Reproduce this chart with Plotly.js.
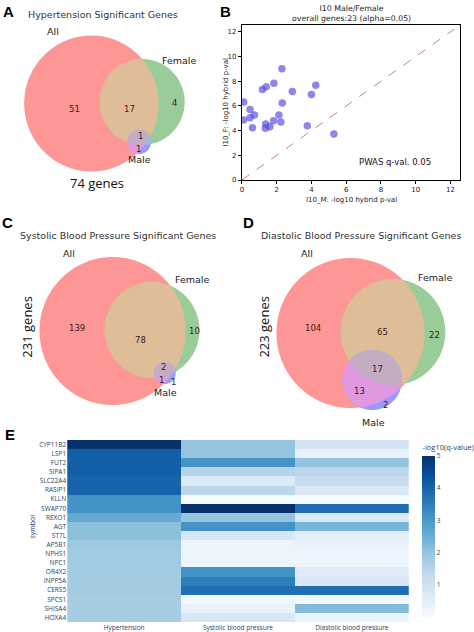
<!DOCTYPE html>
<html><head><meta charset="utf-8">
<script src="https://cdn.plot.ly/plotly-3.0.1.min.js"></script>
<style>html,body{margin:0;padding:0;background:#fff;}#chart{width:474px;height:632px;}</style>
</head><body><div id="chart"></div>
<script>
// ---------------- DATA ----------------
const setNames = ['All', 'Female', 'Male'];
const vennRegionNames = ['All only', 'All & Female', 'Female only', 'All & Female & Male', 'All & Male', 'Male only'];
const hypCounts = [51, 17, 4, 1, 1, null];
const sbpCounts = [139, 78, 10, 2, 1, 1];
const dbpCounts = [104, 65, 22, 17, 13, 2];
const vennTotals = [74, 231, 223];
const vennTitles = ['Hypertension Significant Genes', 'Systolic Blood Pressure Significant Genes', 'Diastolic Blood Pressure Significant Genes'];

const maleLogP   = [0.10, 0.10, 0.47, 0.47, 0.72, 0.61, 1.18, 1.40, 1.37, 1.35, 1.61, 1.84, 1.82, 2.13, 2.24, 2.32, 2.30, 2.90, 3.76, 4.00, 4.25, 5.29];
const femaleLogP = [6.31, 4.85, 5.71, 5.04, 5.26, 4.23, 7.33, 7.55, 4.53, 4.20, 4.31, 7.84, 4.80, 5.26, 4.69, 6.23, 9.00, 7.17, 4.39, 6.93, 7.68, 3.72];
const scatterTitle = 'I10 Male/Female<br>overall genes:23 (alpha=0.05)';
const scatterNote = 'PWAS q-val. 0.05';

const genes = ['CYP11B2','LSP1','FUT2','SIPA1','SLC22A4','RASIP1','KLLN','SWAP70','REXO1','AGT','ST7L','AP5B1','NPHS1','NPC1','OR4X2','INPP5A','CERS5','SPCS1','SHISA4','HOXA4'];
const traits = ['Hypertension', 'Systolic blood pressure', 'Diastolic blood pressure'];
const hypVals = [5.0, 4.1, 4.1, 4.1, 4.0, 4.0, 3.1, 3.1, 2.6, 2.1, 2.1, 1.9, 1.85, 1.85, 1.8, 1.8, 1.8, 1.75, 1.75, 1.75];
const sbpVals = [2.0, 2.0, 3.1, 1.5, 0.65, 1.4, 0.05, 5.0, 2.0, 3.1, 0.8, 0.25, 0.25, 0.25, 3.1, 3.5, 3.8, 0.15, 0.35, 0.8];
const dbpVals = [0.95, 0.35, 2.0, 1.4, 1.2, 0.7, 0.05, 3.8, 0.7, 2.35, 0.5, 0.35, 0.25, 0.25, 0.6, 0.8, 3.8, 0.15, 2.2, 0.25];

// ---------------- LAYOUT GEOMETRY (pixels) ----------------
const W = 474, H = 632;
const px = x => x / W, py = y => 1 - y / H;

const vennGeom = [
  {counts: hypCounts, circles: [[92.5,103.5,68],[144,102,43],[141,142,12]], title:[104,14], all:[54,31], female:[182,61], male:[141,159],
   pos: [[75,109],[131,109],[177,103],[142,136],[140,149],null], total:{x:98,y:183,angle:0}, letter:['A',9,12]},
  {counts: sbpCounts, circles: [[114,331,74],[154,330,48],[167,373,11]], title:[120,235], all:[70,253], female:[195,280], male:[168,392],
   pos: [[78,328],[142,340],[197,331],[166,367],[164,380],[176,382]], total:{x:27,y:327,angle:-90}, letter:['C',8,222]},
  {counts: dbpCounts, circles: [[355,333,75],[398,332,53],[377,380,30]], title:[366,235], all:[311,254], female:[441,277], male:[378,422],
   pos: [[317,328],[387,332],[440,335],[382,369],[364,391],[390,405]], total:{x:267,y:327,angle:-90}, letter:['D',252,222]}
];

const C_R = '#ff9696', C_G = '#99cc99', C_RG = '#e0bd99', C_B = '#9999ff', C_RB = '#e099e0', C_GB = '#99bde0', C_RGB = '#c2adc2';

function intersectPath(cs) {
  const N = 360, pts = [];
  cs.forEach((c, i) => {
    for (let k = 0; k < N; k++) {
      const a = 2 * Math.PI * k / N;
      const p = [c[0] + c[2] * Math.cos(a), c[1] + c[2] * Math.sin(a)];
      let ok = true;
      cs.forEach((o, j) => {
        if (j !== i && Math.hypot(p[0] - o[0], p[1] - o[1]) > o[2] + 1e-6) ok = false;
      });
      if (ok) pts.push(p);
    }
  });
  if (pts.length < 3) return null;
  const cx = pts.reduce((s, p) => s + p[0], 0) / pts.length;
  const cy = pts.reduce((s, p) => s + p[1], 0) / pts.length;
  pts.sort((p, q) => Math.atan2(p[1] - cy, p[0] - cx) - Math.atan2(q[1] - cy, q[0] - cx));
  return 'M' + pts.map(p => px(p[0]).toFixed(5) + ',' + py(p[1]).toFixed(5)).join('L') + 'Z';
}

const shapes = [];
const annotations = [];
const vennFont = 'DejaVu Sans, sans-serif';
function addText(text, x, y, size, opts) {
  annotations.push(Object.assign({text, x: px(x), y: py(y), xref: 'paper', yref: 'paper', showarrow: false,
    xanchor: 'center', yanchor: 'middle', font: {family: vennFont, size, color: '#222'}}, opts || {}));
}
const letterFont = {family: 'Liberation Sans, Arial, sans-serif', size: 15, color: '#000'};

vennGeom.forEach((g, vi) => {
  const [R, G, B] = g.circles;
  const layers = [[[R], C_R], [[G], C_G], [[R, G], C_RG], [[B], C_B], [[R, B], C_RB], [[G, B], C_GB], [[R, G, B], C_RGB]];
  layers.forEach(([cs, col]) => {
    const p = intersectPath(cs);
    if (p) shapes.push({type: 'path', xref: 'paper', yref: 'paper', path: p, fillcolor: col, line: {width: 0}, layer: 'above'});
  });
  addText(vennTitles[vi], g.title[0], g.title[1], 9.5, {font: {family: vennFont, size: 9.5, color: '#333'}});
  addText(setNames[0], g.all[0], g.all[1], 9.5);
  addText(setNames[1], g.female[0], g.female[1], 9.5);
  addText(setNames[2], g.male[0], g.male[1], 9.5);
  g.counts.forEach((c, ri) => {
    if (c !== null && g.pos[ri]) addText(String(c), g.pos[ri][0], g.pos[ri][1], 8.5, {font: {family: vennFont, size: 8.5, color: '#3a1a1a'}});
  });
  addText(vennTotals[vi] + ' genes', g.total.x, g.total.y, 13,
    {textangle: g.total.angle, font: {family: 'Open Sans, sans-serif', size: 13, color: '#111'}});
  addText('<b>' + g.letter[0] + '</b>', g.letter[1], g.letter[2], 15, {font: letterFont});
});
addText('<b>B</b>', 228, 12, 15, {font: letterFont});
addText('<b>E</b>', 10, 434, 15, {font: letterFont});

// scatter titles
addText(scatterTitle, 355.5, 13, 7.8, {font: {family: vennFont, size: 7.8, color: '#222'}});
addText('I10_M: -log10 hybrid p-val', 355.5, 200, 7, {font: {family: vennFont, size: 7, color: '#222'}});
addText('I10_F: -log10 hybrid p-val', 229, 102.5, 7, {textangle: -90, font: {family: vennFont, size: 7, color: '#222'}});
annotations.push({text: scatterNote, x: 8.8, y: 1.43, xref: 'x', yref: 'y', showarrow: false, xanchor: 'center', yanchor: 'middle',
  font: {family: vennFont, size: 8.5, color: '#111'}});
// heatmap y title
addText('symbol', 32, 527, 7, {textangle: -90, font: {family: 'Open Sans, sans-serif', size: 7, color: '#2a3f5f'}});

const axMax = 12.55;
const blues = [[0,'rgb(247,251,255)'],[0.125,'rgb(222,235,247)'],[0.25,'rgb(198,219,239)'],[0.375,'rgb(158,202,225)'],
  [0.5,'rgb(107,174,214)'],[0.625,'rgb(66,146,198)'],[0.75,'rgb(33,113,181)'],[0.875,'rgb(8,81,156)'],[1,'rgb(8,48,107)']];

const traces = [
  {type: 'scatter', mode: 'lines', x: [0, axMax], y: [0, axMax], xaxis: 'x', yaxis: 'y', hoverinfo: 'skip',
   line: {color: 'rgba(170,90,90,0.75)', width: 1, dash: 'dash'}},
  {type: 'scatter', mode: 'markers', x: maleLogP, y: femaleLogP, xaxis: 'x', yaxis: 'y',
   marker: {size: 7.5, color: 'rgba(80,70,225,0.65)', line: {width: 0}}},
  {type: 'heatmap', x: traits, y: genes, z: genes.map((g, i) => [hypVals[i], sbpVals[i], dbpVals[i]]),
   xaxis: 'x2', yaxis: 'y2', zmin: 0, zmax: 5, colorscale: blues,
   colorbar: {x: 427 / W, xanchor: 'left', y: py(617), yanchor: 'bottom', len: 176, lenmode: 'pixels',
     thickness: 13, thicknessmode: 'pixels', xpad: 0, ypad: 0, outlinewidth: 0, ticks: '',
     tickvals: [1, 2, 3, 4, 5], tickfont: {size: 6.5, color: '#444', family: 'Open Sans, sans-serif'},
     title: {text: '-log10(q-value)', side: 'top', font: {size: 7.5, color: '#2a3f5f', family: 'Open Sans, sans-serif'}}}}
];

const axStyle = {showline: true, linecolor: '#000', linewidth: 1, mirror: true, ticks: 'outside', ticklen: 3, tickcolor: '#000',
  showgrid: false, zeroline: false, range: [0, axMax], dtick: 2, tick0: 0, tickfont: {size: 7, family: vennFont, color: '#222'}};

const layout = {
  width: W, height: H, margin: {l: 0, r: 0, t: 0, b: 0}, paper_bgcolor: '#fff', plot_bgcolor: '#fff', showlegend: false,
  font: {family: 'Open Sans, sans-serif'},
  xaxis: Object.assign({domain: [245 / W, 466 / W], anchor: 'y'}, axStyle),
  yaxis: Object.assign({domain: [py(180), py(25)], anchor: 'x'}, axStyle),
  xaxis2: {domain: [68 / W, 414 / W], anchor: 'y2', showgrid: false, zeroline: false, ticks: '',
    tickfont: {size: 6.5, color: '#2a3f5f'}},
  yaxis2: {domain: [py(622), py(440)], anchor: 'x2', autorange: 'reversed', showgrid: false, zeroline: false, ticks: '',
    tickmode: 'linear', dtick: 1, tickfont: {size: 6.5, color: '#2a3f5f'}},
  shapes, annotations
};

Plotly.newPlot('chart', traces, layout, {staticPlot: true, displayModeBar: false});
</script>
</body></html>
